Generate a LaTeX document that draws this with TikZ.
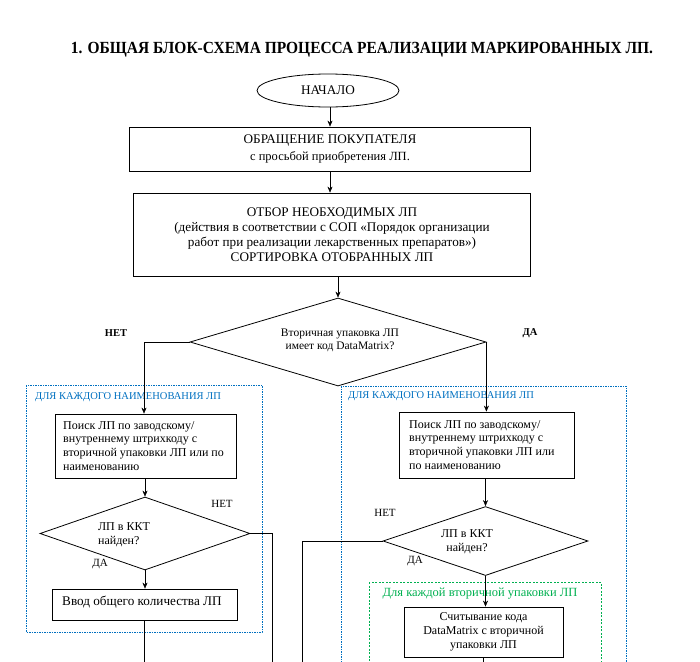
\documentclass[tikz,border=0pt]{standalone}
\usepackage{fontspec}
\setmainfont{Liberation Serif}
\usetikzlibrary{shapes.geometric,arrows.meta}
\definecolor{frameblue}{RGB}{0,112,192}
\definecolor{framegreen}{RGB}{0,176,80}
\newcommand{\fs}[1]{\fontsize{#1}{1.15\dimexpr#1pt\relax}\selectfont}
\tikzset{
	blk/.style={draw,line width=.8pt,inner sep=0pt},
	decis/.style={draw,diamond,line width=.8pt,inner sep=0pt,aspect=2},
	frm/.style={line width=.9pt,dash pattern=on 1.5pt off 1pt},
	lbl/.style={inner sep=0pt}
}
\begin{document}
\begin{tikzpicture}[>={Stealth[length=6pt,width=5pt]},x=1pt,y=-1pt,scale=1]
	\clip (0,0) rectangle (700,661);
	%	\draw[gray!30,step=50] (0,0) grid (700,661);
	\node[lbl,font=\bfseries\fs{17}] (title) at (362,50) {\scalebox{0.91}[1]{1. ОБЩАЯ БЛОК-СХЕМА ПРОЦЕССА РЕАЛИЗАЦИИ МАРКИРОВАННЫХ ЛП.}};
	\node[blk,ellipse,minimum width=142pt,minimum height=33pt,font=\fs{13.2}] (start) at (328,90.5) {НАЧАЛО};
	\node[blk,minimum width=401pt,minimum height=44pt,align=center,font=\fs{13.2}] (obr) at (330,149)
		{ОБРАЩЕНИЕ ПОКУПАТЕЛЯ\\[2pt]{\fs{12.5}с просьбой приобретения ЛП.}};
	\node[blk,minimum width=397pt,minimum height=83pt,align=center,font=\fs{13.2}] (otbor) at (332,234.5)
		{ОТБОР НЕОБХОДИМЫХ ЛП\\(действия в соответствии с СОП «Порядок организации\\работ при реализации лекарственных препаратов»)\\СОРТИРОВКА ОТОБРАННЫХ ЛП};
	\node[decis,minimum width=296pt,minimum height=88pt] (dm) at (338,342) {};
	\node[lbl,align=center,font=\fs{11.5}] (dmtext) at (340,340) {Вторичная упаковка ЛП\\имеет код DataMatrix?};
	\node[lbl,font=\bfseries\fs{10.5}] (no) at (116,333) {НЕТ};
	\node[lbl,font=\bfseries\fs{10.5}] (yes) at (530,333) {ДА};
	% левая ветка
	\draw[frm,frameblue] (26,385) rectangle (262,632);
	\node[lbl,anchor=west,text=frameblue,font=\fs{10.5}] (capL) at (35,397) {ДЛЯ КАЖДОГО НАИМЕНОВАНИЯ ЛП};
	\node[blk,minimum width=181pt,minimum height=64pt] (searchL) at (145.5,446) {};
	\node[lbl,anchor=north west,align=left,font=\fs{12}] at (63,421) {Поиск ЛП по заводскому/\\внутреннему штрихкоду с\\вторичной упаковки ЛП или по\\наименованию};
	\node[decis,minimum width=210pt,minimum height=73pt] (dmL) at (145,533.5) {};
	\node[lbl,align=left,font=\fs{12}] (dmLtext) at (124,535) {ЛП в ККТ\\найден?};
	\node[lbl,font=\fs{11}] (noL) at (222,504) {НЕТ};
	\node[lbl,font=\fs{11}] (yesL) at (100,564) {ДА};
	\node[blk,minimum width=185pt,minimum height=31pt] (inputL) at (144.5,604.5) {};
	\node[lbl,anchor=west,font=\fs{13.2}] at (62,602) {Ввод общего количества ЛП};
	% правая ветка
	\draw[frm,frameblue] (341,386) rectangle (626,690);
	\node[lbl,anchor=west,text=frameblue,font=\fs{10.5}] (capR) at (348,396) {ДЛЯ КАЖДОГО НАИМЕНОВАНИЯ ЛП};
	\node[blk,minimum width=175pt,minimum height=66pt] (searchR) at (486.5,445) {};
	\node[lbl,anchor=north west,align=left,font=\fs{12}] at (409,420) {Поиск ЛП по заводскому/\\внутреннему штрихкоду с\\вторичной упаковки ЛП или\\по наименованию};
	\node[decis,minimum width=205pt,minimum height=69pt] (dmR) at (485.5,541) {};
	\node[lbl,align=center,font=\fs{12}] (dmRtext) at (467,542) {ЛП в ККТ\\найден?};
	\node[lbl,font=\fs{11}] (noR) at (385,513) {НЕТ};
	\node[lbl,font=\fs{11}] (yesR) at (415,561) {ДА};
	\draw[line width=.9pt,framegreen,dash pattern=on 2pt off 1.5pt] (369,582) rectangle (601,690);
	\node[lbl,text=framegreen,font=\fs{12.5}] (capG) at (480,594) {Для каждой вторичной упаковки ЛП};
	\node[blk,minimum width=159pt,minimum height=50pt,align=center,font=\fs{12}] (readR) at (483.5,632)
		{Считывание кода\\DataMatrix с вторичной\\упаковки ЛП};
	% связи
	\coordinate (nL) at (144,342);
	\coordinate (eL) at (272,533.5);
	\coordinate (wR) at (302,541);
	\draw[->] (start.south -| obr.north) -- (obr.north);
	\draw[->] (obr.south) -- (obr.south |- otbor.north);
	\draw[->] (otbor.south -| dm.north) -- (dm.north);
	\draw[->] (dm.west) -- (nL) -- (nL |- searchL.north);
	\draw[->] (dm.east) -- (dm.east |- searchR.north);
	\draw[->] (searchL.south -| dmL.north) -- (dmL.north);
	\draw[->] (dmL.south) -- (dmL.south |- inputL.north);
	\draw (dmL.east) -- (eL) -- (eL |- 0,680);
	\draw (inputL.south) -- ++(0,60);
	\draw[->] (searchR.south -| dmR.north) -- (dmR.north);
	\draw[->] (dmR.south) -- (dmR.south |- readR.north);
	\draw (dmR.west) -- (wR) -- (wR |- 0,680);
	\draw (readR.south) -- ++(0,30);
\end{tikzpicture}
\end{document}
